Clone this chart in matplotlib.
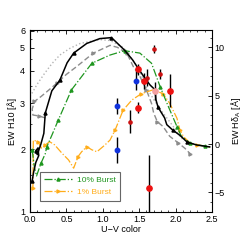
import numpy as np
import matplotlib
matplotlib.use("Agg")
import matplotlib.pyplot as plt
from matplotlib.ticker import MultipleLocator, FixedLocator
from matplotlib.lines import Line2D

plt.rcParams['font.family'] = ['Liberation Sans', 'DejaVu Sans']
plt.rcParams['font.size'] = 6.5

# ---- model tracks (x = U-V colour, y = EW HdA) ----
black_x = [0.03, 0.05, 0.08, 0.12, 0.11, 0.08, 0.10, 0.15, 0.19, 0.21, 0.30, 0.41, 0.51, 0.60, 0.78, 0.96, 1.12,
           1.30, 1.41, 1.48, 1.58, 1.65, 1.72, 1.73, 1.76, 1.85, 1.88, 1.96, 2.06, 2.16, 2.29, 2.47]
black_y = [-3.8, -2.9, -1.9, -1.2, -0.4, -0.7, -1.1, 0.0, 1.1, 3.2, 5.5, 6.6, 8.4, 9.4, 10.4, 10.9, 11.0,
           9.7, 8.7, 7.9, 6.8, 6.1, 5.6, 4.6, 3.8, 2.7, 2.0, 1.45, 0.9, 0.2, -0.1, -0.3]

green_x = [0.03, 0.06, 0.09, 0.15, 0.21, 0.23, 0.30, 0.39, 0.57, 0.85, 1.10, 1.30, 1.51, 1.67, 1.79, 1.90,
           2.02, 2.08, 2.20, 2.30, 2.40, 2.47]
green_y = [-0.6, -2.4, -3.3, -2.0, -1.0, -0.3, 0.9, 2.5, 5.6, 8.35, 9.2, 9.65, 9.4, 8.35, 5.9, 3.9,
           1.8, 0.8, 0.1, -0.1, -0.2, -0.3]

orange_x = [0.04, 0.045, 0.11, 0.16, 0.21, 0.27, 0.34, 0.44, 0.53, 0.60, 0.66, 0.71, 0.78, 0.85, 0.92, 1.03,
            1.10, 1.17, 1.28, 1.40, 1.53, 1.69, 1.83, 1.92, 2.02, 2.06, 2.11, 2.20, 2.30, 2.40, 2.47]
orange_y = [-4.6, 0.4, 0.24, -0.45, -0.1, 0.24, -0.1, -0.96, -1.65, -2.5, -1.3, -0.8, -0.28, -0.6, -0.8, -0.1,
            0.41, 1.45, 3.5, 4.55, 5.2, 5.6, 5.2, 4.2, 2.66, 1.45, 0.76, 0.1, -0.1, -0.2, -0.3]

gdash_x = [0.21, 0.12, 0.04, 0.03, 0.06, 0.15, 0.23, 0.37, 0.50, 0.64, 0.87, 1.10, 1.20, 1.33, 1.42, 1.51,
           1.60, 1.67, 1.70, 1.75, 1.83, 1.92, 2.04, 2.13, 2.20]
gdash_y = [2.7, 2.9, 3.0, 3.6, 4.4, 4.9, 5.4, 6.3, 7.2, 8.0, 9.4, 10.2, 10.0, 9.4, 8.0, 7.0,
           5.6, 4.2, 3.2, 2.3, 1.8, 0.8, 0.1, -0.45, -1.0]

gdot_x = [0.0, 0.1, 0.2, 0.3, 0.41, 0.55, 0.69, 0.96, 1.10, 1.28, 1.44, 1.52, 1.60, 1.70, 1.80, 1.90,
          1.97, 2.05, 2.12]
gdot_y = [4.9, 6.2, 7.3, 8.3, 9.2, 9.9, 10.4, 10.8, 10.7, 10.0, 8.4, 7.3, 5.9, 4.6, 3.5, 2.5,
          1.8, 0.9, 0.3]

# ---- observed galaxies ----
red_big_x = [1.49, 1.56, 1.49, 1.92, 1.64]
red_big_y = [7.72, 6.5, 3.76, 5.5, -4.58]
red_big_e = [0.6, 0.8, 0.6, 1.7, 3.45]

red_small_x = [1.71, 1.79, 1.61, 1.37]
red_small_y = [9.79, 7.24, 6.86, 2.3]
red_small_e = [0.4, 0.5, 0.9, 1.2]

pink_x = [1.72]
pink_y = [5.5]
pink_e = [0.9]

blue_x = [1.455, 1.20, 1.20]
blue_y = [6.55, 3.93, -0.62]
blue_e = [1.0, 0.8, 1.3]

# H10 value -> HdA position of the left axis labels
h10_ticks = [1, 2, 3, 4, 5, 6]
hda_at_h10 = [-7.03, -0.52, 4.24, 7.55, 9.93, 11.72]

lg = np.log10(h10_ticks)
lg_ext = np.concatenate([[lg[0] - 1.0], lg, [lg[-1] + 1.0]])
hd_ext = np.concatenate([[hda_at_h10[0] - 21.6], hda_at_h10, [hda_at_h10[-1] + 22.6]])


def hda_to_h10(v):
    return 10 ** np.interp(v, hd_ext, lg_ext)


def h10_to_hda(h):
    return np.interp(np.log10(np.clip(h, 1e-3, None)), lg_ext, hd_ext)


fig = plt.figure(figsize=(2.43, 2.43), dpi=100)
ax = fig.add_axes([0.1235, 0.1276, 0.7485, 0.749])

ax.plot(gdot_x, gdot_y, ':', color='#b4b4b4', lw=1.0, zorder=1)
ax.plot(gdash_x, gdash_y, '--', color='#8c8c8c', lw=1.0, dashes=(4, 2), marker='>', ms=2.2,
        markevery=[1, 4, 7, 10, 13, 16, 19, 22, 24], zorder=1)
ax.plot(orange_x, orange_y, '-.', color='#ffad1a', lw=0.9, marker='>', ms=2.2,
        markevery=[0, 2, 4, 10, 12, 17, 18, 20, 22, 25, 28], zorder=2)
ax.plot(green_x, green_y, '-.', color='#1f961f', lw=0.9, marker='^', ms=2.2,
        markevery=[0, 3, 5, 7, 8, 9, 11, 14, 16, 18, 20], zorder=3)
ax.plot(black_x, black_y, '-', color='black', lw=1.1, marker='^', ms=2.2,
        markevery=[0, 5, 9, 11, 13, 16, 19, 22, 24, 27, 29], zorder=4)

ax.errorbar(red_big_x, red_big_y, yerr=red_big_e, fmt='o', color='#ee1111', ms=3.8,
            ecolor='black', elinewidth=1.0, capsize=0, zorder=5)
ax.errorbar(red_small_x, red_small_y, yerr=red_small_e, fmt='o', color='#cc1111', ms=2.3,
            ecolor='black', elinewidth=1.0, capsize=0, zorder=5)
ax.errorbar(pink_x, pink_y, yerr=pink_e, fmt='o', color='#f4a0a0', ms=3.8,
            ecolor='black', elinewidth=1.0, capsize=0, zorder=5)
ax.errorbar(blue_x, blue_y, yerr=blue_e, fmt='o', color='#1133dd', ms=3.2,
            ecolor='black', elinewidth=1.0, capsize=0, zorder=5)

ax.set_xlim(0, 2.5)
ax.set_ylim(-7.03, 11.79)
ax.xaxis.set_major_locator(MultipleLocator(0.5))
ax.xaxis.set_minor_locator(MultipleLocator(0.1))
ax.xaxis.set_major_formatter(plt.FormatStrFormatter('%.1f'))
ax.yaxis.set_major_locator(MultipleLocator(5))
ax.yaxis.set_minor_locator(MultipleLocator(1))
ax.yaxis.tick_right()
ax.yaxis.set_label_position('right')
ax.tick_params(which='both', direction='in', top=True, right=True, left=False, pad=2)
ax.tick_params(which='major', length=3, width=0.6)
ax.tick_params(which='minor', length=1.6, width=0.5)
for s in ax.spines.values():
    s.set_linewidth(0.8)
ax.set_xlabel('U\u2212V color', labelpad=1)
ax.set_ylabel('EW H\u03b4$_\\mathregular{A}$ [\u00c5]', labelpad=3)

sec = ax.secondary_yaxis('left', functions=(hda_to_h10, h10_to_hda))
sec.yaxis.set_major_locator(FixedLocator(h10_ticks))
sec.yaxis.set_minor_locator(FixedLocator([1.5, 2.5, 3.5, 4.5, 5.5]))
sec.yaxis.set_major_formatter(plt.FormatStrFormatter('%d'))
sec.tick_params(which='both', direction='in', pad=3.5)
sec.tick_params(which='major', length=3, width=0.6)
sec.tick_params(which='minor', length=1.6, width=0.5)
sec.spines['left'].set_linewidth(0.8)
sec.set_ylabel('EW H10 [\u00c5]', labelpad=2)

handles = [Line2D([], [], ls='-.', color='#1f961f', lw=0.9, marker='^', ms=2.2),
           Line2D([], [], ls='-.', color='#ffad1a', lw=0.9, marker='>', ms=2.2)]
leg = ax.legend(handles, ['10% Burst', '1% Burst'], loc='lower left', bbox_to_anchor=(0.03, 0.04),
                fontsize=6, frameon=True, fancybox=False, edgecolor='#666666', framealpha=1,
                handlelength=3.4, borderpad=0.5, labelspacing=0.5, handletextpad=0.6, markerfirst=True)
leg.get_frame().set_linewidth(0.8)
for t, c in zip(leg.get_texts(), ['#1f961f', '#ffad1a']):
    t.set_color(c)

fig.savefig('out.png', dpi=100)
